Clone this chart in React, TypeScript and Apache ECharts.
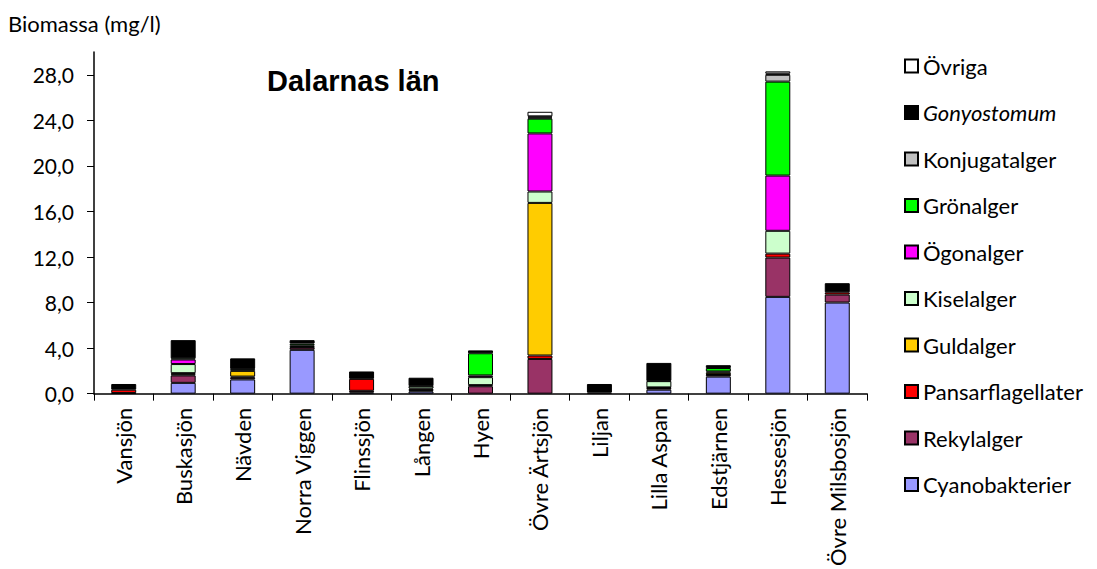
import React, { useEffect, useRef } from "react";
import * as echarts from "echarts";

const lakes = ["Vansjön", "Buskasjön", "Nävden", "Norra Viggen", "Flinssjön", "Lången", "Hyen", "Övre Ärtsjön", "Liljan", "Lilla Aspan", "Edstjärnen", "Hessesjön", "Övre Milsbosjön"];

const cyanobakterier = [0, 0.95, 1.25, 3.85, 0.1, 0.2, 0, 0, 0, 0.35, 1.5, 8.5, 8.0];
const rekylalger = [0.05, 0.65, 0.15, 0.2, 0.15, 0.1, 0.65, 3.05, 0.1, 0.15, 0.15, 3.45, 0.7];
const pansarflagellater = [0.3, 0.1, 0.1, 0, 1.05, 0.05, 0.1, 0.3, 0, 0.05, 0.05, 0.35, 0.2];
const guldalger = [0, 0.1, 0.5, 0.05, 0, 0.1, 0, 13.4, 0, 0, 0.15, 0, 0];
const kiselalger = [0, 0.8, 0.15, 0.15, 0, 0.2, 0.7, 1.0, 0, 0.55, 0.1, 2.0, 0];
const ogonalger = [0, 0.4, 0, 0, 0, 0, 0.15, 5.1, 0, 0, 0, 4.85, 0];
const gronalger = [0, 0.1, 0.05, 0.15, 0, 0.05, 1.95, 1.3, 0, 0.05, 0.3, 8.25, 0];
const konjugatalger = [0, 0, 0, 0, 0, 0, 0, 0.1, 0, 0, 0, 0.6, 0];
const gonyostomum = [0.5, 1.6, 0.9, 0.3, 0.65, 0.7, 0.25, 0.1, 0.75, 1.55, 0.25, 0.1, 0.8];
const ovriga = [0, 0, 0, 0, 0, 0, 0, 0.4, 0, 0, 0, 0.2, 0];

const yTicks = [0, 4, 8, 12, 16, 20, 24, 28];

const seriesDefs = [
  { name: "Cyanobakterier", data: cyanobakterier, color: "#9999FF" },
  { name: "Rekylalger", data: rekylalger, color: "#993366" },
  { name: "Pansarflagellater", data: pansarflagellater, color: "#FF0000" },
  { name: "Guldalger", data: guldalger, color: "#FFCC00" },
  { name: "Kiselalger", data: kiselalger, color: "#CCFFCC" },
  { name: "Ögonalger", data: ogonalger, color: "#FF00FF" },
  { name: "Grönalger", data: gronalger, color: "#00FF00" },
  { name: "Konjugatalger", data: konjugatalger, color: "#C0C0C0" },
  { name: "Gonyostomum", data: gonyostomum, color: "#000000" },
  { name: "Övriga", data: ovriga, color: "#FFFFFF" },
];

const FONT = "Lato, 'Open Sans', sans-serif";

export default function App() {
  const ref = useRef<HTMLDivElement>(null);
  useEffect(() => {
    if (!ref.current) return;
    const chart = echarts.init(ref.current, null, { renderer: "svg" });
    chart.setOption({
      animation: false,
      backgroundColor: "#ffffff",
      textStyle: { fontFamily: FONT },
      title: {
        text: "Dalarnas län",
        left: 267,
        top: 66,
        padding: 0,
        textStyle: { fontSize: 29, fontWeight: "bold", color: "#000", fontFamily: "'Liberation Sans', Arial, sans-serif" },
      },
      graphic: [
        {
          type: "text",
          left: 8,
          top: 12,
          style: { text: "Biomassa (mg/l)", font: "22px Lato, sans-serif", fill: "#000" },
        },
      ],
      legend: {
        orient: "vertical",
        left: 904,
        top: 55,
        padding: 0,
        itemWidth: 13,
        itemHeight: 13,
        itemGap: 24.5,
        icon: "rect",
        data: seriesDefs.map((s) => s.name).reverse(),
        formatter: (name: string) => (name === "Gonyostomum" ? "{i|Gonyostomum}" : name),
        textStyle: {
          fontSize: 22,
          color: "#000",
          fontFamily: FONT,
          rich: { i: { fontStyle: "italic", fontSize: 22, fontFamily: FONT, color: "#000" } },
        },
      },
      grid: { left: 94, right: 230, top: 52, bottom: 172, containLabel: false },
      xAxis: {
        type: "category",
        data: lakes,
        axisLine: { lineStyle: { color: "#000", width: 1.5 } },
        axisTick: { show: true, length: 7, lineStyle: { color: "#000" } },
        axisLabel: { rotate: 90, fontSize: 22, color: "#000", margin: 14, fontFamily: FONT, interval: 0 },
      },
      yAxis: {
        type: "value",
        min: 0,
        max: 30,
        interval: 4,
        splitLine: { show: false },
        axisLine: { show: true, lineStyle: { color: "#000", width: 1.5 } },
        axisTick: { show: true, length: 7, inside: false, customValues: yTicks, lineStyle: { color: "#000" } },
        axisLabel: {
          fontSize: 21,
          color: "#000",
          margin: 20,
          fontFamily: FONT,
          customValues: yTicks,
          formatter: (v: number) => (v > 28 ? "" : v.toFixed(1).replace(".", ",")),
        },
      },
      series: seriesDefs.map((s) => ({
        name: s.name,
        type: "bar",
        stack: "total",
        barWidth: "42%",
        data: s.data.map((v) => (v === 0 ? "-" : v)),
        itemStyle: { color: s.color, borderColor: "#000", borderWidth: 1 },
      })),
    });
    return () => chart.dispose();
  }, []);
  return <div ref={ref} style={{ width: 1097, height: 569, position: "absolute", left: 0, top: 0 }} />;
}
